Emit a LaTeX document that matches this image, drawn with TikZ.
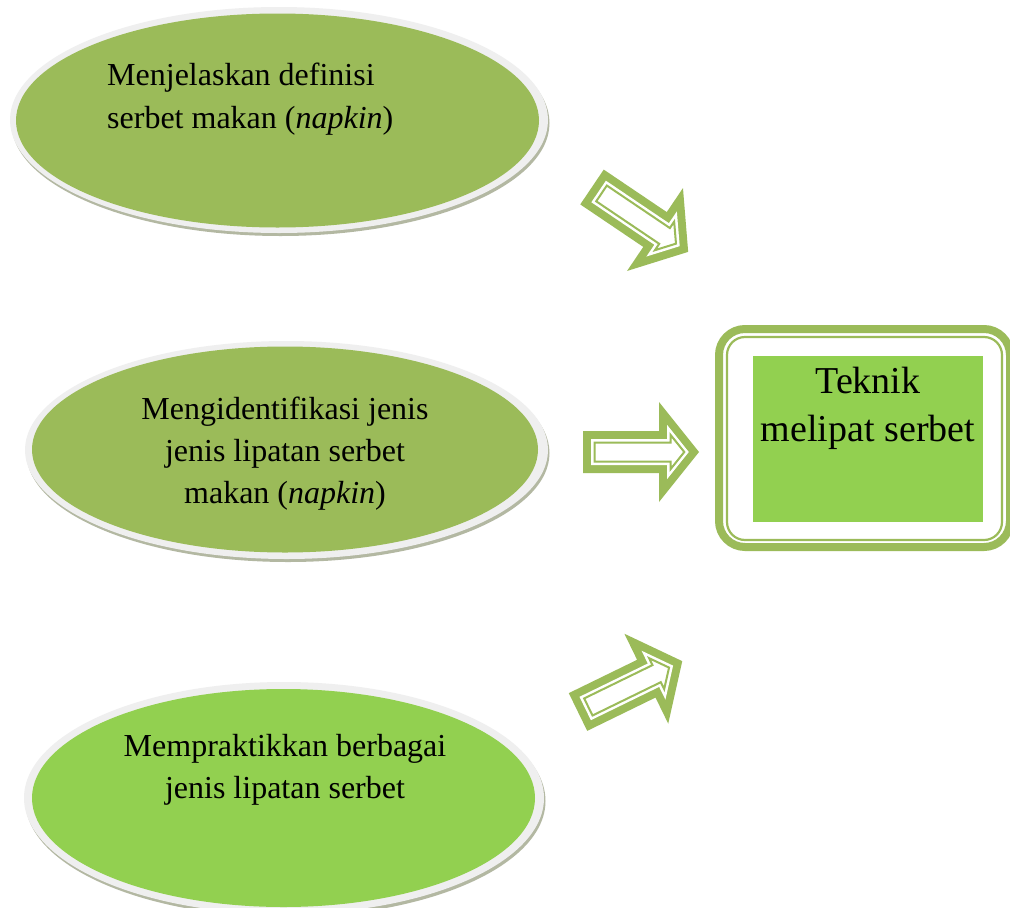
\documentclass[tikz,border=0pt]{standalone}
\usepackage{fontspec}
\setmainfont{Liberation Serif}[Ligatures=CommonOff]
\usetikzlibrary{shapes.geometric}
\definecolor{olivegr}{HTML}{9BBB59}
\definecolor{lightgr}{HTML}{92D050}
\definecolor{rimgray}{HTML}{EFEFEF}
\definecolor{shadowgr}{HTML}{B3B8A2}
\tikzset{
  shadowell/.style={ellipse, fill=shadowgr, inner sep=0pt},
  rimell/.style={ellipse, fill=rimgray, inner sep=0pt},
  greenell/.style={ellipse, inner sep=0pt},
  lbl/.style={inner sep=0pt, font=\fontsize{32}{43}\selectfont},
  boxlbl/.style={inner sep=0pt, font=\fontsize{38}{50}\selectfont},
  dblarrow/.pic={
    \fill[olivegr] (0,21) -- (76,21) -- (76,50) -- (116,0) -- (76,-50) -- (76,-21) -- (0,-21) -- cycle;
    \fill[white] (8,13) -- (84,13) -- (84,27.2) -- (105.8,0) -- (84,-27.2) -- (84,-13) -- (8,-13) -- cycle;
    \draw[olivegr, line width=2pt, line join=miter] (11.5,9.5) -- (87.5,9.5) -- (87.5,17.2) -- (101.3,0) -- (87.5,-17.2) -- (87.5,-9.5) -- (11.5,-9.5) -- cycle;
  }
}
\begin{document}
\begin{tikzpicture}[x=1pt,y=-1pt]
\useasboundingbox (0,0) rectangle (1010,908);
\clip (0,0) rectangle (1010,908);
\fill[white] (0,0) rectangle (1010,908);

% ellipse 1
\node[shadowell, minimum width=538pt, minimum height=226pt] (s1) at (280.5,123) {};
\node[rimell, minimum width=538pt, minimum height=226pt] (r1) at (279,120) {};
\node[greenell, fill=olivegr, minimum width=523pt, minimum height=214pt] (e1) at (277.5,120.5) {};
\node[lbl, anchor=base west] (t1a) at (107,85) {Menjelaskan definisi};
\node[lbl, anchor=base west] (t1b) at (107,128) {serbet makan (\textit{napkin})};

% ellipse 2
\node[shadowell, minimum width=523pt, minimum height=218pt] (s2) at (288,453) {};
\node[rimell, minimum width=523pt, minimum height=218pt] (r2) at (286.5,450) {};
\node[greenell, fill=olivegr, minimum width=506pt, minimum height=206pt] (e2) at (285,449.5) {};
\node[lbl, anchor=base] (t2a) at (285,419) {Mengidentifikasi jenis};
\node[lbl, anchor=base] (t2b) at (285,461) {jenis lipatan serbet};
\node[lbl, anchor=base] (t2c) at (285,503) {makan (\textit{napkin})};

% ellipse 3
\node[shadowell, minimum width=520pt, minimum height=232pt] (s3) at (285.5,801) {};
\node[rimell, minimum width=520pt, minimum height=232pt] (r3) at (284,798) {};
\node[greenell, fill=lightgr, minimum width=503pt, minimum height=218pt] (e3) at (283.5,798) {};
\node[lbl, anchor=base] (t3a) at (285,756) {Mempraktikkan berbagai};
\node[lbl, anchor=base] (t3b) at (285,798) {jenis lipatan serbet};

% arrows
\pic[rotate=-34] at (592,187) {dblarrow};
\pic at (583,452) {dblarrow};
\pic[rotate=26] at (578,712) {dblarrow};

% target box
\draw[olivegr, line width=8pt, rounded corners=26pt] (719,329) rectangle (1010,547);
\draw[olivegr, line width=2.2pt, rounded corners=18pt] (727,337) rectangle (1002,540);
\node[fill=lightgr, inner sep=0pt, minimum width=230pt, minimum height=166pt] (box) at (868,439) {};
\node[boxlbl, anchor=base] (bt1) at (868,393) {Teknik};
\node[boxlbl, anchor=base] (bt2) at (868,441) {melipat serbet};
\end{tikzpicture}
\end{document}
